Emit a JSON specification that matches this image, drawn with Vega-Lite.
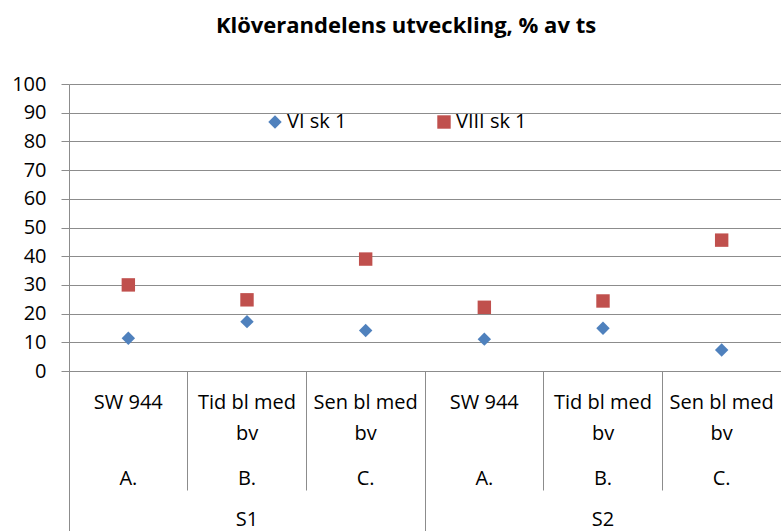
{
  "$schema": "https://vega.github.io/schema/vega-lite/v6.json",
  "autosize": "none",
  "width": 712,
  "height": 287,
  "padding": {"left": 69, "top": 84, "right": 0, "bottom": 160},
  "background": "white",
  "title": {
    "text": "Klöverandelens utveckling, % av ts",
    "font": "Open Sans",
    "fontSize": 22,
    "fontWeight": "bold",
    "color": "#000000",
    "anchor": "middle",
    "baseline": "alphabetic",
    "offset": 19,
    "dx": -19
  },
  "config": {
    "view": {"stroke": null},
    "font": "Open Sans"
  },
  "data": {
    "values": [
      {"key": "S1|A.|SW 944", "grp": "S1", "series": "VI sk 1", "value": 11.4},
      {"key": "S1|A.|SW 944", "grp": "S1", "series": "VIII sk 1", "value": 30.0},
      {"key": "S1|B.|Tid bl med|bv", "grp": "S1", "series": "VI sk 1", "value": 17.2},
      {"key": "S1|B.|Tid bl med|bv", "grp": "S1", "series": "VIII sk 1", "value": 24.8},
      {"key": "S1|C.|Sen bl med|bv", "grp": "S1", "series": "VI sk 1", "value": 14.1},
      {"key": "S1|C.|Sen bl med|bv", "grp": "S1", "series": "VIII sk 1", "value": 39.0},
      {"key": "S2|A.|SW 944", "grp": "S2", "series": "VI sk 1", "value": 11.1},
      {"key": "S2|A.|SW 944", "grp": "S2", "series": "VIII sk 1", "value": 22.2},
      {"key": "S2|B.|Tid bl med|bv", "grp": "S2", "series": "VI sk 1", "value": 14.9},
      {"key": "S2|B.|Tid bl med|bv", "grp": "S2", "series": "VIII sk 1", "value": 24.4},
      {"key": "S2|C.|Sen bl med|bv", "grp": "S2", "series": "VI sk 1", "value": 7.3},
      {"key": "S2|C.|Sen bl med|bv", "grp": "S2", "series": "VIII sk 1", "value": 45.6}
    ]
  },
  "encoding": {
    "y": {
      "field": "value",
      "type": "quantitative",
      "scale": {"domain": [0, 100], "nice": false, "zero": true},
      "axis": {
        "title": null,
        "values": [0, 10, 20, 30, 40, 50, 60, 70, 80, 90, 100],
        "grid": true,
        "gridColor": "#8c8c8c",
        "gridWidth": 1,
        "domainColor": "#8c8c8c",
        "tickColor": "#8c8c8c",
        "tickSize": 8,
        "labelPadding": 15,
        "labelFont": "Open Sans",
        "labelFontSize": 20,
        "labelColor": "#000000"
      }
    }
  },
  "layer": [
    {
      "mark": {"type": "point", "filled": true, "opacity": 1},
      "encoding": {
        "x": {
          "field": "key",
          "type": "nominal",
          "scale": {"type": "band", "paddingInner": 0, "paddingOuter": 0},
          "axis": {
            "title": null,
            "orient": "bottom",
            "grid": false,
            "bandPosition": 0,
            "domain": true,
            "domainColor": "#8c8c8c",
            "ticks": true,
            "tickSize": 119,
            "tickColor": "#8c8c8c",
            "labelAngle": 0,
            "labelExpr": "slice(split(datum.value, '|'), 2)",
            "labelBaseline": "alphabetic",
            "labelPadding": -82,
            "labelLineHeight": 31,
            "labelFont": "Open Sans",
            "labelFontSize": 20,
            "labelColor": "#000000"
          }
        },
        "color": {
          "field": "series",
          "type": "nominal",
          "scale": {"domain": ["VI sk 1", "VIII sk 1"], "range": ["#4F81BD", "#C0504D"]},
          "legend": {
            "title": null,
            "orient": "none",
            "direction": "horizontal",
            "legendX": 196,
            "legendY": 28,
            "padding": 0,
            "labelFont": "Open Sans",
            "labelFontSize": 20,
            "labelColor": "#000000",
            "labelOffset": 2,
            "columnPadding": 87,
            "symbolSize": 180,
            "symbolOpacity": 1
          }
        },
        "shape": {
          "field": "series",
          "type": "nominal",
          "scale": {"domain": ["VI sk 1", "VIII sk 1"], "range": ["diamond", "square"]},
          "legend": {
            "title": null,
            "orient": "none",
            "direction": "horizontal",
            "legendX": 196,
            "legendY": 28,
            "padding": 0,
            "labelFont": "Open Sans",
            "labelFontSize": 20,
            "labelColor": "#000000",
            "labelOffset": 2,
            "columnPadding": 87,
            "symbolSize": 180,
            "symbolOpacity": 1
          }
        },
        "size": {"value": 180}
      }
    },
    {
      "mark": {"type": "point", "opacity": 0},
      "encoding": {
        "x": {
          "field": "key",
          "type": "nominal",
          "scale": {"type": "band", "paddingInner": 0, "paddingOuter": 0},
          "axis": {
            "title": null,
            "orient": "bottom",
            "grid": false,
            "domain": false,
            "ticks": false,
            "tickSize": 0,
            "labelAngle": 0,
            "labelExpr": "split(datum.value, '|')[1]",
            "labelBaseline": "alphabetic",
            "labelPadding": 113,
            "labelFont": "Open Sans",
            "labelFontSize": 20,
            "labelColor": "#000000"
          }
        }
      }
    },
    {
      "mark": {"type": "point", "opacity": 0},
      "encoding": {
        "x": {
          "field": "grp",
          "type": "nominal",
          "scale": {"type": "band", "paddingInner": 0, "paddingOuter": 0},
          "axis": {
            "title": null,
            "orient": "bottom",
            "grid": false,
            "domain": false,
            "bandPosition": 0,
            "ticks": true,
            "tickSize": 160,
            "tickColor": "#8c8c8c",
            "labelAngle": 0,
            "labelBaseline": "alphabetic",
            "labelPadding": -6,
            "labelFont": "Open Sans",
            "labelFontSize": 20,
            "labelColor": "#000000"
          }
        }
      }
    }
  ],
  "resolve": {"scale": {"x": "independent"}, "axis": {"x": "independent"}}
}
